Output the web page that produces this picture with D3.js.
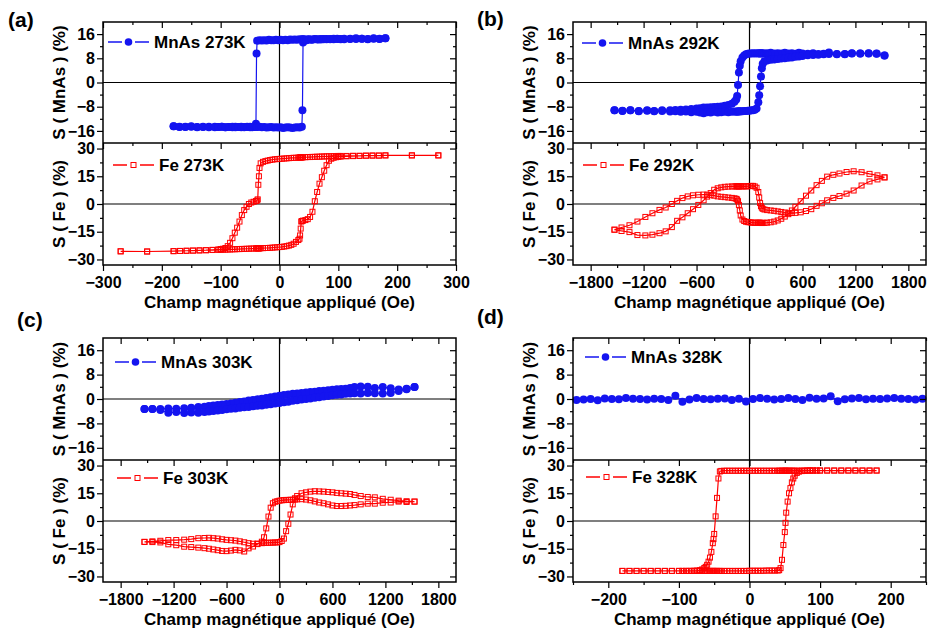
<!DOCTYPE html>
<html><head><meta charset="utf-8">
<script src="https://cdn.jsdelivr.net/npm/d3@7"></script>
<style>body{margin:0;background:#fff;}svg{display:block;}</style>
</head><body><svg id="chart" width="929" height="631"></svg>
<script>
// ---------------- DATA ----------------
// tick labels
const xTicksA = [-300,-200,-100,0,100,200,300];
const xMinorA = [-250,-150,-50,50,150,250];
const xTicksBC = [-1800,-1200,-600,0,600,1200,1800];
const xMinorBC = [-1500,-900,-300,300,900,1500];
const xTicksD = [-200,-100,0,100,200];
const xMinorD = [-250,-150,-50,50,150,250];
const yTicksMnAs = [-16,-8,0,8,16];
const yMinorMnAs = [-12,-4,4,12];
const yTicksFe = [-30,-15,0,15,30];
const yMinorFe = [-22.5,-7.5,7.5,22.5];

// (a) 273 K — field sweep (Oe), S on decreasing field ("Down") and increasing field ("Up")
const fieldMnAs273 = [180,170,160,150,140,130,120,110,104,98,92,86,80,75,70,65,60,55,50,46,42,40,39,38,34,30,26,22,18,14,10,6,2,-2,-6,-10,-14,-18,-22,-26,-30,-34,-38,-39,-40,-42,-46,-50,-55,-60,-65,-70,-75,-80,-86,-92,-98,-104,-110,-120,-130,-140,-150,-160,-170,-180];
const sMnAs273Down = [14.6,14.4,14.5,14.3,14.5,14.4,14.5,14.3,14.4,14.5,14.3,14.4,14.3,14.4,14.2,14.3,14.4,14.2,14.3,14.2,14.3,14.2,14.3,14.2,14.3,14.1,14.2,14.1,14.2,14.0,14.1,14.0,14.1,14.0,14.1,14.0,14.0,14.1,13.9,14.0,13.9,14.0,13.8,9.6,-13.6,-14.6,-14.7,-14.8,-14.6,-14.7,-14.8,-14.7,-14.6,-14.8,-14.7,-14.8,-14.6,-14.7,-14.8,-14.6,-14.7,-14.8,-14.6,-14.7,-14.6,-14.5];
const sMnAs273Up = [14.6,14.5,14.6,14.4,14.5,14.6,14.4,14.5,14.3,14.4,14.5,14.3,14.4,14.3,14.4,14.2,14.3,14.1,14.2,14.0,13.9,13.2,-9.2,-14.6,-14.9,-14.8,-14.9,-15.0,-14.9,-14.8,-14.9,-15.0,-14.8,-14.9,-14.8,-14.9,-14.7,-14.8,-14.9,-14.7,-14.8,-14.6,-14.7,-14.6,-14.5,-14.6,-14.8,-14.6,-14.7,-14.8,-14.6,-14.7,-14.8,-14.6,-14.7,-14.8,-14.6,-14.7,-14.6,-14.8,-14.6,-14.7,-14.5,-14.6,-14.7,-14.5];

const fieldFe273 = [270,225,180,169,158,147,136,125,114,104,100,96,92,88,84,80,76,72,68,64,60,56,52,48,44,40,38,37,36,35,34,32,28,24,20,16,12,8,4,0,-4,-8,-12,-16,-20,-24,-28,-32,-34,-35,-36,-37,-38,-40,-44,-48,-52,-56,-60,-64,-68,-72,-76,-80,-84,-88,-92,-96,-100,-104,-114,-125,-136,-147,-158,-169,-180,-225,-270];
const sFe273Down = [26.3,26.3,26.3,26.2,26.2,26.2,26.1,26.1,26.0,26.0,26.0,25.9,25.9,25.8,25.8,25.8,25.7,25.7,25.6,25.6,25.5,25.5,25.4,25.4,25.3,25.3,25.2,25.2,25.2,25.2,25.1,25.1,25.0,25.0,24.9,24.8,24.7,24.6,24.5,24.4,24.3,24.2,24.0,23.8,23.5,23.2,22.8,22.0,19.5,15.0,10.4,2.5,1.9,1.6,1.2,0.8,0.0,-1.5,-3.3,-6.0,-9.5,-12.8,-15.5,-18.5,-21.0,-22.8,-23.8,-24.2,-24.4,-24.6,-24.8,-25.0,-25.1,-25.2,-25.3,-25.4,-25.5,-25.7,-25.6];
const sFe273Up = [26.3,26.3,26.3,26.2,26.2,26.1,26.0,25.9,25.8,25.6,25.5,25.3,25.0,24.5,23.4,21.0,18.0,14.5,11.0,6.5,1.5,-4.2,-7.0,-8.2,-8.7,-9.0,-9.2,-9.5,-13.3,-17.0,-18.8,-19.5,-20.5,-21.5,-22.1,-22.5,-22.8,-23.0,-23.2,-23.3,-23.4,-23.5,-23.6,-23.7,-23.8,-23.8,-23.9,-23.9,-24.0,-24.0,-24.0,-24.0,-24.0,-24.0,-24.1,-24.1,-24.2,-24.2,-24.3,-24.3,-24.4,-24.4,-24.5,-24.5,-24.6,-24.6,-24.7,-24.7,-24.8,-24.8,-24.9,-25.0,-25.1,-25.2,-25.3,-25.4,-25.5,-25.7,-25.6];

// (b) 292 K
const fieldMnAs292 = [1530,1440,1350,1255,1160,1080,990,900,840,780,720,660,600,560,520,480,440,400,360,320,280,240,200,170,150,140,130,120,110,100,80,60,40,20,0,-20,-40,-60,-80,-100,-110,-120,-130,-140,-150,-170,-200,-240,-280,-320,-360,-400,-440,-480,-520,-560,-600,-660,-720,-780,-840,-900,-990,-1080,-1160,-1255,-1350,-1440,-1530];
const sMnAs292Down = [8.9,9.6,9.7,9.6,9.7,9.3,9.4,9.9,9.5,9.4,9.7,9.5,9.6,9.8,9.5,9.7,9.6,9.8,9.6,9.7,9.6,9.8,9.7,9.6,9.7,9.6,9.7,9.6,9.7,9.6,9.7,9.6,9.7,9.6,9.6,9.5,9.3,8.9,8.3,7.0,5.5,3.3,-0.8,-4.5,-5.6,-6.4,-7.0,-7.4,-7.7,-7.9,-8.0,-8.1,-8.2,-8.3,-8.3,-8.5,-8.6,-8.8,-8.9,-9.0,-9.1,-9.2,-9.2,-9.4,-9.2,-9.4,-9.2,-9.4,-9.2];
const sMnAs292Up = [8.9,9.5,9.6,9.6,9.6,9.4,9.3,9.4,9.3,9.2,9.1,9.0,8.8,8.6,8.5,8.3,8.2,8.0,7.9,7.8,7.6,7.5,7.3,7.0,6.2,4.7,2.0,-1.2,-4.2,-6.5,-8.6,-9.0,-9.2,-9.2,-9.3,-9.3,-9.4,-9.4,-9.5,-9.5,-9.6,-9.5,-9.6,-9.6,-9.7,-9.6,-9.7,-9.8,-9.7,-9.8,-9.9,-9.7,-9.9,-9.8,-10.2,-9.9,-9.7,-9.8,-9.6,-9.7,-9.5,-9.6,-9.4,-9.5,-9.3,-9.5,-9.2,-9.3,-9.2];

const fieldFe292 = [1530,1450,1360,1270,1180,1100,1020,950,880,820,760,700,640,580,520,480,440,400,360,320,280,240,200,170,150,140,130,120,110,100,80,60,40,20,0,-20,-40,-60,-80,-100,-110,-120,-130,-140,-150,-170,-200,-240,-280,-320,-360,-400,-440,-480,-520,-580,-640,-700,-760,-820,-880,-950,-1020,-1100,-1180,-1270,-1360,-1450,-1530];
const sFe292Down = [14.4,15.5,16.3,17.2,17.7,17.3,16.5,15.8,14.8,12.5,10.2,7.3,4.5,1.5,-1.5,-3.5,-5.5,-6.8,-8.0,-8.9,-9.5,-9.9,-10.1,-10.2,-10.2,-10.3,-10.2,-10.2,-10.1,-10.1,-10.1,-10.2,-10.1,-10.0,-9.9,-9.8,-9.6,-9.2,-8.4,-6.2,-3.5,-0.5,1.5,2.4,2.8,3.1,3.3,3.5,3.7,3.9,4.1,4.5,4.8,5.0,5.1,5.0,4.7,4.1,3.2,1.7,0.0,-1.9,-3.2,-5.0,-7.0,-9.5,-11.5,-12.7,-13.9];
const sFe292Up = [14.4,13.3,12.2,10.0,7.3,5.6,4.3,3.3,2.0,0.4,-1.0,-2.8,-3.8,-4.5,-4.8,-4.9,-4.8,-4.6,-4.3,-4.0,-3.7,-3.5,-3.3,-3.0,-2.6,-2.0,-1.2,0.5,3.5,6.5,8.8,9.5,9.8,9.8,9.7,9.6,9.5,9.6,9.5,9.6,9.6,9.5,9.6,9.5,9.6,9.5,9.5,9.4,9.3,9.0,8.5,7.7,5.9,4.0,2.0,-0.5,-2.8,-5.0,-7.2,-9.1,-12.5,-14.8,-15.8,-16.6,-17.0,-16.8,-15.2,-14.6,-13.9];

// (c) 303 K
const fieldMnAs303 = [1530,1440,1350,1260,1170,1080,1000,920,850,800,750,700,650,600,550,500,450,400,350,300,250,200,150,100,50,0,-50,-100,-150,-200,-250,-300,-350,-400,-450,-500,-550,-600,-650,-700,-750,-800,-850,-920,-1000,-1080,-1170,-1260,-1350,-1440,-1530];
const sMnAs303Down = [3.9,3.4,3.1,3.5,3.9,3.6,4.0,4.1,3.9,3.6,3.4,3.3,3.2,3.0,2.9,2.7,2.6,2.4,2.3,2.1,2.0,1.8,1.7,1.5,1.3,1.1,0.8,0.6,0.3,0.1,-0.1,-0.3,-0.5,-0.8,-1.0,-1.2,-1.5,-1.6,-1.8,-2.0,-2.1,-2.3,-2.5,-2.6,-2.9,-3.0,-3.2,-3.1,-3.3,-3.3,-3.3];
const sMnAs303Up = [3.9,3.2,2.6,2.0,1.8,1.9,2.0,1.8,1.9,1.8,1.7,1.5,1.4,1.2,1.0,0.8,0.6,0.4,0.2,0.0,-0.2,-0.4,-0.6,-0.9,-1.1,-1.3,-1.5,-1.7,-1.9,-2.1,-2.2,-2.4,-2.6,-2.7,-2.9,-3.1,-3.2,-3.4,-3.6,-3.8,-3.9,-4.1,-4.3,-4.5,-4.4,-4.6,-4.3,-4.5,-3.6,-3.3,-3.3];

const fieldFe303 = [1530,1440,1350,1260,1170,1080,1000,920,850,800,750,700,650,600,550,500,450,400,350,300,250,200,175,150,125,100,75,50,25,0,-25,-50,-75,-100,-125,-150,-175,-200,-250,-300,-350,-400,-450,-500,-550,-600,-650,-700,-750,-800,-850,-920,-1000,-1080,-1170,-1260,-1350,-1440,-1530];
const sFe303Down = [10.5,10.3,10.5,10.0,9.9,9.4,9.4,9.0,8.6,8.4,8.2,8.1,8.1,8.4,9.0,9.6,10.0,10.6,11.2,11.6,11.8,11.7,11.6,11.5,11.5,11.4,11.4,11.3,11.2,11.0,10.7,10.4,9.6,7.2,2.4,-4.0,-8.8,-11.2,-12.5,-13.8,-14.8,-16.5,-15.9,-15.6,-16.0,-16.3,-16.2,-15.8,-15.4,-15.0,-14.7,-14.4,-14.1,-13.9,-13.1,-12.6,-11.6,-11.4,-11.3];
const sFe303Up = [10.5,10.7,11.0,11.5,12.0,12.8,13.0,13.5,14.1,14.6,14.8,15.0,15.2,15.5,15.7,15.9,16.0,16.1,15.9,15.5,15.0,13.5,12.3,9.0,3.5,-1.5,-5.5,-9.5,-10.8,-11.4,-11.6,-11.6,-11.7,-11.7,-11.8,-11.8,-11.9,-12.0,-12.2,-12.3,-12.0,-11.5,-11.0,-10.6,-10.4,-10.2,-9.9,-9.5,-9.3,-9.1,-9.2,-9.3,-9.8,-10.1,-10.3,-10.3,-10.7,-11.0,-11.3];

// (d) 328 K
const fieldMnAs328 = [-245,-235,-225,-215,-205,-195,-185,-175,-165,-155,-145,-135,-125,-115,-105,-95,-85,-75,-65,-55,-45,-35,-25,-15,-5,5,15,25,35,45,55,65,75,85,95,105,115,125,135,145,155,165,175,185,195,205,215,225,235,245];
const sMnAs328 = [-0.3,-0.2,0.0,-0.4,0.2,0.0,-0.1,0.3,0.1,0.0,-0.2,0.1,0.0,-0.3,1.1,-0.9,-0.2,0.3,0.0,-0.1,0.1,0.2,-0.3,0.1,-0.8,0.0,0.3,0.1,-0.2,0.0,0.3,0.0,-0.3,0.4,0.1,0.2,0.9,-0.7,-0.1,0.2,0.3,-0.1,0.1,0.0,0.2,0.3,0.1,0.0,-0.2,0.1];

const fieldFe328 = [180,170,160,150,140,130,120,110,100,95,90,86,82,78,74,70,67,64,62,60,58,56,54,52,51,50,48,46,44,42,40,36,32,28,24,20,16,12,8,4,0,-4,-8,-12,-16,-20,-24,-28,-32,-36,-40,-42,-44,-46,-48,-50,-51,-52,-54,-56,-58,-60,-62,-64,-67,-70,-74,-78,-82,-86,-90,-95,-100,-110,-120,-130,-140,-150,-160,-170,-180];
const sFe328Down = [27.3,27.3,27.3,27.3,27.3,27.3,27.3,27.3,27.3,27.3,27.3,27.3,27.3,27.2,27.3,27.2,27.2,27.2,27.2,27.2,27.2,27.2,27.2,27.2,27.2,27.2,27.2,27.2,27.2,27.2,27.2,27.2,27.2,27.2,27.2,27.2,27.2,27.2,27.2,27.2,27.2,27.2,27.2,27.2,27.2,27.2,27.2,27.2,27.2,27.2,27.1,26.8,23.0,12.5,2.5,-7.0,-9.8,-12.0,-16.7,-19.8,-22.0,-23.7,-24.8,-25.4,-26.2,-26.6,-26.8,-26.9,-27.0,-27.0,-27.0,-27.0,-27.0,-27.0,-27.0,-27.0,-27.0,-27.0,-27.0,-27.0,-27.0];
const sFe328Up = [27.3,27.3,27.3,27.3,27.3,27.3,27.3,27.3,27.3,27.3,27.3,27.3,27.3,27.2,27.0,26.7,26.0,24.5,23.0,20.9,17.8,15.0,10.5,4.5,-1.0,-6.0,-13.0,-21.0,-25.5,-26.6,-26.8,-26.8,-26.8,-26.8,-26.8,-26.9,-26.9,-26.9,-26.9,-26.9,-26.9,-27.0,-27.0,-27.0,-27.0,-27.0,-27.0,-27.0,-27.0,-27.0,-27.0,-27.0,-27.0,-27.0,-27.0,-27.0,-27.0,-27.0,-27.0,-27.0,-27.0,-27.0,-27.0,-27.0,-27.0,-27.0,-27.0,-27.0,-27.0,-27.0,-27.0,-27.0,-27.0,-27.0,-27.0,-27.0,-27.0,-27.0,-27.0,-27.0,-27.0];

// ---------------- LAYOUT ----------------
const FONT = '"Liberation Sans", Arial, Helvetica, sans-serif';
const BLUE = '#1414f0', RED = '#ff0000';
const fmt = d => (d < 0 ? '\u2212' + Math.abs(d) : String(d));

function loop(field, down, up) {
  const pts = field.map((h, i) => [h, down[i]]);
  for (let i = field.length - 1; i >= 0; i--) pts.push([field[i], up[i]]);
  return pts;
}

const panels = [
  {tag:'(a)', tagX:8, tagY:27, left:103, right:456, top:22, mid:143, bottom:265,
   xDomain:[-300,300], xMajor:xTicksA, xMinor:xMinorA,
   mn:{pts:loop(fieldMnAs273,sMnAs273Down,sMnAs273Up), label:'MnAs 273K', lx:5, ly:20},
   fe:{pts:loop(fieldFe273,sFe273Down,sFe273Up), label:'Fe 273K', lx:10, ly:22}},
  {tag:'(b)', tagX:477, tagY:26, left:573, right:926, top:22, mid:143, bottom:265,
   xDomain:[-2000,2000], xMajor:xTicksBC, xMinor:xMinorBC,
   mn:{pts:loop(fieldMnAs292,sMnAs292Down,sMnAs292Up), label:'MnAs 292K', lx:9, ly:21},
   fe:{pts:loop(fieldFe292,sFe292Down,sFe292Up), label:'Fe 292K', lx:10, ly:22}},
  {tag:'(c)', tagX:17, tagY:327, left:103, right:456, top:338, mid:460, bottom:582,
   xDomain:[-2000,2000], xMajor:xTicksBC, xMinor:xMinorBC,
   mn:{pts:loop(fieldMnAs303,sMnAs303Down,sMnAs303Up), label:'MnAs 303K', lx:12, ly:24},
   fe:{pts:loop(fieldFe303,sFe303Down,sFe303Up), label:'Fe 303K', lx:14, ly:18}},
  {tag:'(d)', tagX:477, tagY:324, left:573, right:926, top:338, mid:460, bottom:582,
   xDomain:[-250,250], xMajor:xTicksD, xMinor:xMinorD,
   mn:{pts:fieldMnAs328.map((h,i)=>[h, sMnAs328[i]]), label:'MnAs 328K', lx:12, ly:19},
   fe:{pts:loop(fieldFe328,sFe328Down,sFe328Up), label:'Fe 328K', lx:13, ly:17}}
];

const svg = d3.select('#chart');
svg.append('rect').attr('width',929).attr('height',631).attr('fill','#fff');

function styleAxis(sel, size) {
  sel.attr('font-family', FONT).attr('font-weight','bold').attr('font-size', size || 16);
  sel.select('.domain').remove();
  sel.selectAll('.tick line').attr('stroke','#000').attr('stroke-width',1.2);
}

function drawSeries(g, x, y, pts, kind) {
  const color = kind === 'mn' ? BLUE : RED;
  const line = d3.line().x(d => x(d[0])).y(d => y(d[1]));
  g.append('path').datum(pts).attr('d', line).attr('fill','none')
    .attr('stroke', color).attr('stroke-width', 1.2);
  if (kind === 'mn') {
    g.append('g').selectAll('circle').data(pts).join('circle')
      .attr('cx', d => x(d[0])).attr('cy', d => y(d[1])).attr('r', 4).attr('fill', color);
  } else {
    g.append('g').selectAll('rect').data(pts).join('rect')
      .attr('x', d => x(d[0]) - 2.5).attr('y', d => y(d[1]) - 2.5)
      .attr('width', 5).attr('height', 5).attr('fill','none')
      .attr('stroke', color).attr('stroke-width', 1);
  }
}

function drawLegend(g, left, top, leg, kind) {
  const color = kind === 'mn' ? BLUE : RED;
  const x0 = left + leg.lx, yc = top + leg.ly;
  g.append('line').attr('x1', x0).attr('x2', x0 + 14).attr('y1', yc).attr('y2', yc)
    .attr('stroke', color).attr('stroke-width', 1.5);
  g.append('line').attr('x1', x0 + 27).attr('x2', x0 + 41).attr('y1', yc).attr('y2', yc)
    .attr('stroke', color).attr('stroke-width', 1.5);
  if (kind === 'mn') {
    g.append('circle').attr('cx', x0 + 20.5).attr('cy', yc).attr('r', 3.8).attr('fill', color);
  } else {
    g.append('rect').attr('x', x0 + 18).attr('y', yc - 2.5).attr('width', 5).attr('height', 5)
      .attr('fill','none').attr('stroke', color).attr('stroke-width', 1);
  }
  g.append('text').attr('x', x0 + 46).attr('y', yc + 6).text(leg.label)
    .attr('font-family', FONT).attr('font-weight','bold').attr('font-size', 17).attr('fill','#000');
}

panels.forEach(p => {
  const g = svg.append('g');
  const x = d3.scaleLinear().domain(p.xDomain).range([p.left, p.right]);
  const yM = d3.scaleLinear().domain([-20, 20]).range([p.mid, p.top]);
  const yF = d3.scaleLinear().domain([-33, 33]).range([p.bottom, p.mid]);

  // zero lines
  g.append('line').attr('x1', p.left).attr('x2', p.right).attr('y1', yM(0)).attr('y2', yM(0))
    .attr('stroke','#000').attr('stroke-width',1.2);
  g.append('line').attr('x1', p.left).attr('x2', p.right).attr('y1', yF(0)).attr('y2', yF(0))
    .attr('stroke','#000').attr('stroke-width',1.2);
  g.append('line').attr('x1', x(0)).attr('x2', x(0)).attr('y1', p.top).attr('y2', p.bottom)
    .attr('stroke','#000').attr('stroke-width',1.2);

  // data
  drawSeries(g, x, yM, p.mn.pts, 'mn');
  drawSeries(g, x, yF, p.fe.pts, 'fe');

  // axes: sub-plots
  [[yM, yTicksMnAs, yMinorMnAs, p.top, p.mid], [yF, yTicksFe, yMinorFe, p.mid, p.bottom]].forEach(([y, maj, min, t, b]) => {
    g.append('g').attr('transform', `translate(${p.left},0)`)
      .call(d3.axisLeft(y).tickValues(maj).tickSize(6).tickPadding(2).tickFormat(fmt))
      .call(s => styleAxis(s));
    g.append('g').attr('transform', `translate(${p.left},0)`)
      .call(d3.axisLeft(y).tickValues(min).tickSize(3).tickFormat(''))
      .call(s => styleAxis(s));
    g.append('g').attr('transform', `translate(${p.right},0)`)
      .call(d3.axisLeft(y).tickValues(maj).tickSize(6).tickFormat(''))
      .call(s => styleAxis(s));
    g.append('g').attr('transform', `translate(${p.right},0)`)
      .call(d3.axisLeft(y).tickValues(min).tickSize(3).tickFormat(''))
      .call(s => styleAxis(s));
    g.append('g').attr('transform', `translate(0,${t})`)
      .call(d3.axisBottom(x).tickValues(p.xMajor).tickSize(6).tickFormat(''))
      .call(s => styleAxis(s));
    g.append('g').attr('transform', `translate(0,${t})`)
      .call(d3.axisBottom(x).tickValues(p.xMinor).tickSize(3).tickFormat(''))
      .call(s => styleAxis(s));
  });
  g.append('g').attr('transform', `translate(0,${p.bottom})`)
    .call(d3.axisBottom(x).tickValues(p.xMajor).tickSize(6).tickPadding(6).tickFormat(fmt))
    .call(s => styleAxis(s));
  g.append('g').attr('transform', `translate(0,${p.bottom})`)
    .call(d3.axisBottom(x).tickValues(p.xMinor).tickSize(3).tickFormat(''))
    .call(s => styleAxis(s));

  // frame
  g.append('rect').attr('x', p.left).attr('y', p.top).attr('width', p.right - p.left)
    .attr('height', p.bottom - p.top).attr('fill','none').attr('stroke','#000').attr('stroke-width',1.5);
  g.append('line').attr('x1', p.left).attr('x2', p.right).attr('y1', p.mid).attr('y2', p.mid)
    .attr('stroke','#000').attr('stroke-width',1.5);

  // legends
  drawLegend(g, p.left, p.top, p.mn, 'mn');
  drawLegend(g, p.left, p.mid, p.fe, 'fe');

  // axis titles
  const tx = p.left - 38;
  g.append('text').attr('transform', `translate(${tx},${(p.top + p.mid) / 2}) rotate(-90)`)
    .attr('text-anchor','middle').text('S ( MnAs ) (%)')
    .attr('font-family', FONT).attr('font-weight','bold').attr('font-size', 17);
  g.append('text').attr('transform', `translate(${tx},${(p.mid + p.bottom) / 2}) rotate(-90)`)
    .attr('text-anchor','middle').text('S ( Fe ) (%)')
    .attr('font-family', FONT).attr('font-weight','bold').attr('font-size', 17);
  g.append('text').attr('x', (p.left + p.right) / 2).attr('y', p.bottom + 43)
    .attr('text-anchor','middle').text('Champ magnétique appliqué (Oe)')
    .attr('font-family', FONT).attr('font-weight','bold').attr('font-size', 17);

  // panel tag
  g.append('text').attr('x', p.tagX).attr('y', p.tagY).text(p.tag)
    .attr('font-family', FONT).attr('font-weight','bold').attr('font-size', 21);
});
</script></body></html>
